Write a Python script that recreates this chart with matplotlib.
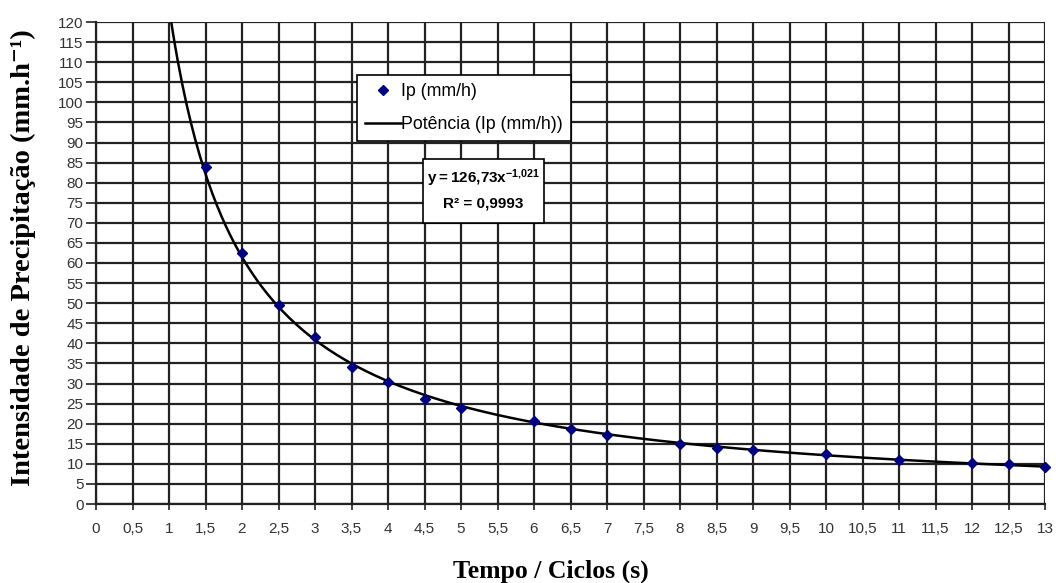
import numpy as np
import matplotlib
matplotlib.use("Agg")
import matplotlib.pyplot as plt
from matplotlib.patches import Rectangle
from matplotlib.lines import Line2D

plt.rcParams['mathtext.fontset'] = 'custom'
plt.rcParams['mathtext.rm'] = 'Liberation Sans:bold'
plt.rcParams['mathtext.bf'] = 'Liberation Sans:bold'

# ---- data ----
tempo = [1.5, 2, 2.5, 3, 3.5, 4, 4.5, 5, 6, 6.5, 7, 8, 8.5, 9, 10, 11, 12, 12.5, 13]
ip = [84.0, 62.5, 49.5, 41.5, 34.0, 30.3, 26.2, 23.8, 20.6, 18.6, 17.3, 15.0,
      14.0, 13.5, 12.4, 11.0, 10.3, 10.0, 9.3]

x_ticks = np.arange(0, 13.01, 0.5)
x_tick_labels = [("%g" % v).replace('.', ',') for v in x_ticks]
y_ticks = np.arange(0, 121, 5)

legend_labels = ["Ip (mm/h)", "Potência (Ip (mm/h))"]
eq_text = r"$\mathbf{y = 126{,}73x^{-1{,}021}}$"
r2_text = "R² = 0,9993"
x_label = "Tempo / Ciclos (s)"
y_label = "Intensidade de Precipitação (mm.h⁻¹)"

# power-law trendline fitted to the points (as the spreadsheet does)
b, loga = np.polyfit(np.log(tempo), np.log(ip), 1)
a = np.exp(loga)
xs = np.linspace((a / 120.0) ** (1.0 / -b), 13, 400)
ys = a * xs ** b

fig = plt.figure(figsize=(10.56, 5.83), dpi=100)
ax = fig.add_axes([96 / 1056, 1 - 504 / 583, (1045 - 96) / 1056, (504 - 22) / 583])

ax.plot(xs, ys, color='black', lw=1.8, zorder=3)
ax.plot(tempo, ip, linestyle='none', marker='D', ms=5, color='#000080',
        markeredgecolor='#000080', zorder=4, clip_on=False)

ax.set_xlim(0, 13)
ax.set_ylim(0, 120)
ax.set_xticks(x_ticks)
ax.set_xticklabels(x_tick_labels)
ax.set_yticks(y_ticks)
ax.grid(True, color='#222222', lw=1.6)
ax.set_axisbelow(True)
for s in ['top', 'right']:
    ax.spines[s].set_visible(False)
for s in ['left', 'bottom']:
    ax.spines[s].set_color('#222222')
    ax.spines[s].set_linewidth(1.6)
ax.tick_params(axis='both', direction='out', width=1.2, color='#222222',
               labelsize=11, labelcolor='#333333')
ax.tick_params(axis='y', length=7, pad=2)
ax.tick_params(axis='x', length=4, pad=9)
for t in ax.get_xticklabels() + ax.get_yticklabels():
    t.set_fontfamily('Liberation Sans')

fig.text(551 / 1056, 1 - 571 / 583, x_label, ha='center', va='center',
         family='Liberation Serif', weight='bold', fontsize=18.5)
fig.text(23 / 1056, 1 - 258 / 583, y_label, rotation=90, ha='center', va='center',
         family=['Liberation Serif', 'DejaVu Serif'], weight='bold', fontsize=20.5)

# legend
handles = [Line2D([], [], linestyle='none', marker='D', ms=5, color='#000080'),
           Line2D([], [], color='black', lw=1.8)]
leg = ax.legend(handles, legend_labels, loc='upper left',
                bbox_to_anchor=((357 - 96) / 949, 1 - (75 - 22) / 482),
                frameon=True, fancybox=False, edgecolor='black', framealpha=1,
                prop={'family': 'Liberation Sans', 'size': 12.8}, handlelength=2.0,
                handletextpad=0.05, borderpad=0.45, labelspacing=0.9, borderaxespad=0)
leg.get_frame().set_linewidth(1.2)
leg.set_zorder(6)

# equation box
bx0, bx1 = (423 - 96) / 949, (544 - 96) / 949
by0, by1 = 1 - (223 - 22) / 482, 1 - (159 - 22) / 482
ax.add_patch(Rectangle((bx0, by0), bx1 - bx0, by1 - by0, transform=ax.transAxes,
                       facecolor='white', edgecolor='black', lw=1.2, zorder=6))
cx = (bx0 + bx1) / 2
ax.text(cx, by0 + (by1 - by0) * 0.70, eq_text, transform=ax.transAxes, ha='center',
        va='center', fontsize=11, zorder=7)
ax.text(cx, by0 + (by1 - by0) * 0.30, r2_text, transform=ax.transAxes, ha='center',
        va='center', fontsize=11, family='Liberation Sans', weight='bold', zorder=7)

fig.savefig('out.png', dpi=100, facecolor='white')
